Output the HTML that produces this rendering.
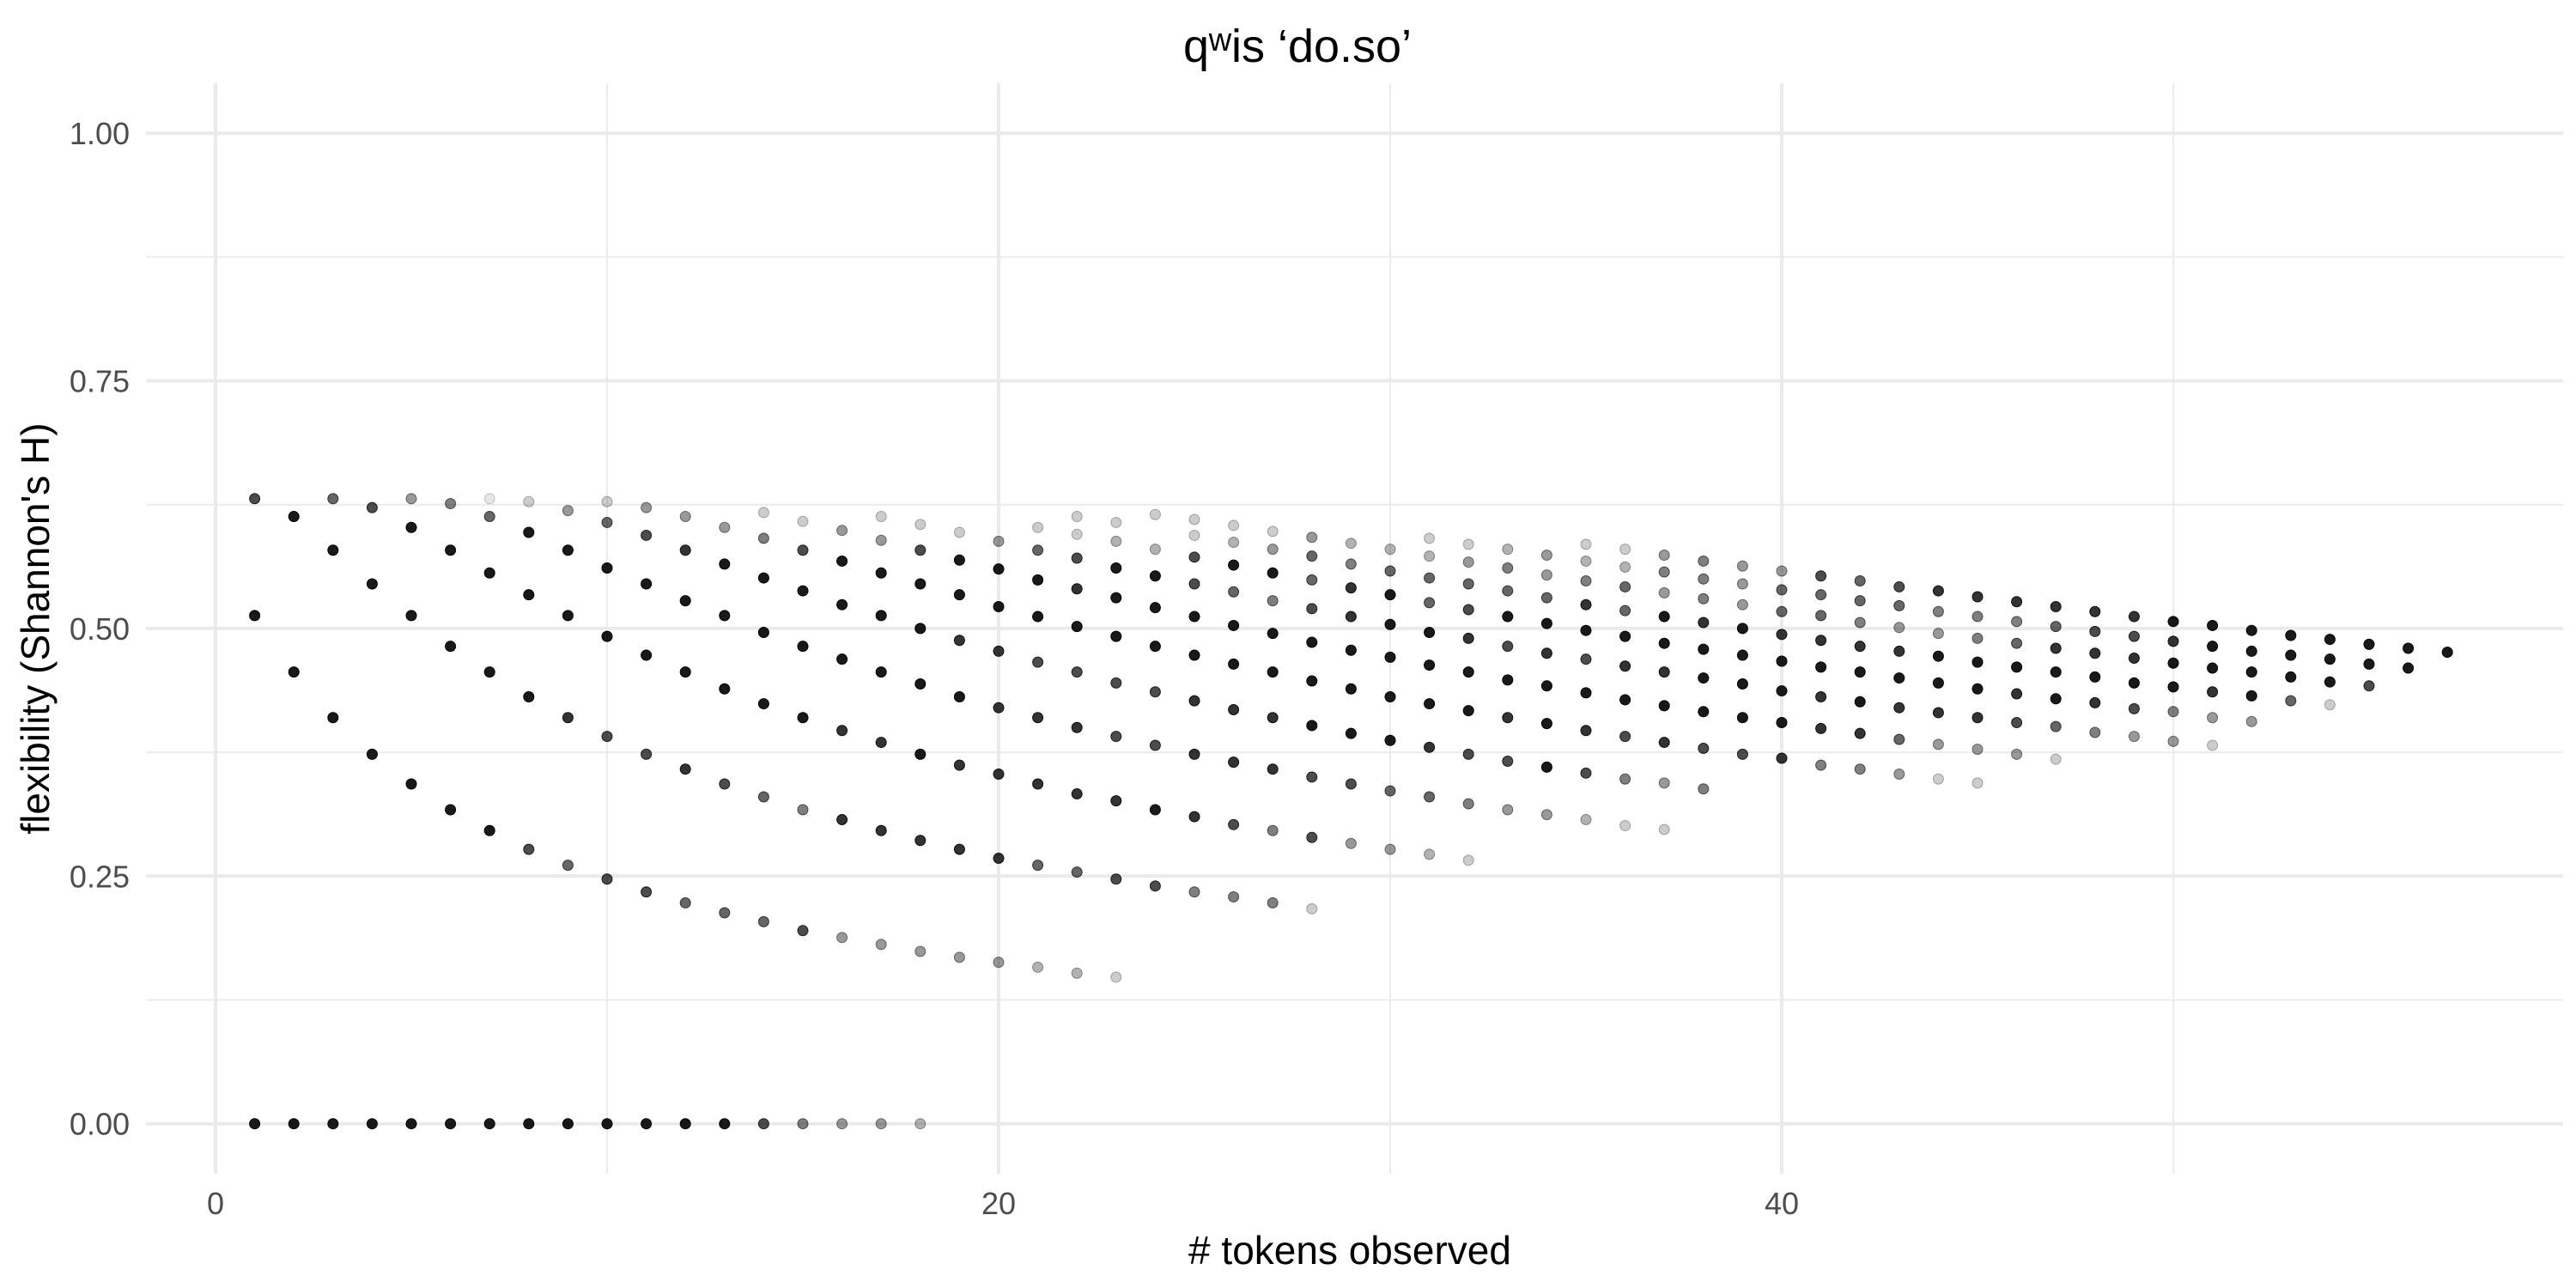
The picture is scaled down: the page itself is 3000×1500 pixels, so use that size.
<!DOCTYPE html>
<html>
<head>
<meta charset="utf-8">
<style>
html,body{margin:0;padding:0;background:#fff;}
svg{display:block;font-family:"Liberation Sans",Arial,sans-serif;}
</style>
</head>
<body>
<svg id="chart" width="3000" height="1500" viewBox="0 0 3000 1500" xmlns="http://www.w3.org/2000/svg">
  <rect x="0" y="0" width="3000" height="1500" fill="#ffffff"/>
  <g id="grid"></g>
  <g id="points"></g>
  <g id="axes"></g>
  <text x="1511" y="72" font-size="54" text-anchor="middle" fill="#000">qʷis ‘do.so’</text>
  <text x="1572" y="1472" font-size="46" text-anchor="middle" fill="#000"># tokens observed</text>
  <text x="0" y="0" font-size="46" text-anchor="middle" fill="#000" transform="translate(57,732) rotate(-90)">flexibility (Shannon's H)</text>
</svg>
<script>
// ---- data ----
const xTickValues = [0, 20, 40];
const xTickLabels = ["0", "20", "40"];
const xMinorValues = [10, 30, 50];
const yTickValues = [0, 0.25, 0.5, 0.75, 1.0];
const yTickLabels = ["0.00", "0.25", "0.50", "0.75", "1.00"];
const yMinorValues = [0.125, 0.375, 0.625, 0.875];

// tokens observed (x) for each column of points
const tokenCounts = [1,2,3,4,5,6,7,8,9,10,11,12,13,14,15,16,17,18,19,20,21,22,23,24,25,26,27,28,29,30,31,32,33,34,35,36,37,38,39,40,41,42,43,44,45,46,47,48,49,50,51,52,53,54,55,56,57];
// flexibility values per column
const flexValues = [
[.631,.513,0],[.613,.456,0],[.631,.579,.410,0],[.622,.545,.373,0],[.631,.602,.513,.343,0],
[.626,.579,.482,.317,0],[.631,.613,.556,.456,.296,0],[.628,.597,.534,.431,.277,0],[.619,.579,.513,.410,.261,0],
[.628,.607,.561,.492,.391,.247,0],[.622,.594,.545,.473,.373,.234,0],[.613,.579,.528,.456,.358,.223,0],
[.602,.565,.513,.439,.343,.213,0],[.617,.591,.551,.496,.424,.330,.204,0],[.608,.579,.538,.482,.410,.317,.195,0],
[.599,.568,.524,.469,.397,.307,.188,0],[.613,.589,.556,.513,.456,.385,.296,.181,0],[.605,.579,.545,.500,.444,.373,.286,.174,0],
[.597,.569,.534,.488,.431,.362,.277,.168],[.588,.560,.522,.477,.420,.353,.268,.163],
[.602,.579,.549,.512,.466,.410,.343,.261,.158],[.613,.595,.571,.540,.502,.456,.400,.333,.254,.152],
[.607,.588,.561,.531,.492,.445,.391,.326,.247,.148],[.615,.580,.553,.521,.482,.436,.382,.317,.240],
[.610,.594,.572,.545,.512,.473,.427,.373,.310,.234],[.604,.587,.564,.537,.503,.464,.418,.365,.302,.229],
[.598,.580,.556,.528,.495,.456,.410,.358,.296,.223],[.592,.573,.549,.520,.486,.447,.402,.350,.289,.217],
[.586,.565,.541,.512,.478,.439,.394,.343,.283],[.580,.558,.534,.504,.471,.431,.387,.336,.277],
[.591,.573,.551,.526,.496,.463,.424,.380,.330,.272],[.585,.567,.545,.519,.490,.456,.417,.373,.323,.266],
[.580,.561,.538,.512,.482,.448,.410,.366,.317],[.574,.554,.531,.505,.475,.442,.404,.360,.312],
[.585,.568,.548,.524,.498,.469,.435,.397,.354,.307],[.580,.562,.542,.518,.492,.462,.428,.391,.348,.301],
[.574,.557,.536,.512,.485,.456,.422,.385,.344,.297],[.568,.550,.530,.506,.479,.450,.416,.379,.338],
[.563,.545,.524,.500,.473,.444,.410,.373],[.558,.539,.517,.494,.467,.437,.405,.369],
[.553,.534,.513,.488,.461,.431,.399,.362],[.548,.528,.506,.482,.456,.426,.394,.358],
[.542,.523,.501,.477,.450,.420,.388,.353],[.538,.517,.495,.472,.445,.415,.383,.348],
[.532,.512,.490,.466,.439,.410,.378,.344],[.527,.507,.485,.461,.434,.405,.373],
[.522,.502,.480,.456,.429,.401,.368],[.517,.497,.475,.451,.425,.395],
[.512,.492,.470,.445,.419,.391],[.507,.487,.465,.441,.416,.386],
[.503,.482,.460,.436,.410,.382],[.498,.477,.456,.432,.406],
[.493,.473,.451,.427],[.489,.469,.446,.423],[.484,.464,.442],[.480,.460],[.476]
];
// opacity (tenths) per point, same shape as flexValues
const pointAlpha = [
[7,9,9],[9,9,9],[6,9,9,9],[7,9,9,9],[4,9,9,9,9],
[5,9,9,9,9],[1,6,9,9,9,9],[2,9,9,9,7,9],[4,9,9,8,6,9],
[2,6,9,9,7,7,9],[4,7,9,9,7,7,9],[4,8,9,9,8,6,9],
[4,9,9,9,7,6,9],[2,5,9,9,9,6,6,7],[2,7,9,9,9,5,7,5],
[4,9,9,9,8,8,4,4],[2,4,9,9,9,8,8,4,4],[2,7,9,9,9,9,8,4,3],
[2,9,9,8,9,8,8,4],[4,9,9,8,8,8,8,4],
[2,6,9,9,7,8,8,6,3],[2,2,7,8,9,7,8,8,6,3],
[2,3,9,9,9,7,7,8,7,2],[2,3,9,9,9,7,7,9,7],
[2,2,7,7,9,9,8,8,8,5],[2,3,9,6,9,9,8,8,7,5],
[2,4,9,5,9,9,8,8,5,5],[4,6,6,7,9,9,9,7,7,2],
[3,5,8,8,9,9,9,7,4],[3,6,9,9,9,9,9,6,4],
[2,3,6,6,9,9,9,8,6,3],[2,4,6,7,8,9,9,7,5,2],
[3,5,6,9,7,9,8,7,4],[4,4,6,9,8,9,9,9,4],
[2,3,5,8,9,7,9,8,7,3],[2,3,6,6,9,8,9,7,5,2],
[4,5,4,9,9,8,9,8,4,2],[5,5,5,8,9,9,9,7,5],
[4,4,4,9,9,9,9,7],[4,6,6,8,9,9,9,8],
[7,6,6,8,9,8,8,5],[6,6,5,8,9,9,8,5],
[7,6,4,8,9,8,6,4],[8,5,4,9,9,8,4,2],
[8,5,5,9,9,8,4,2],[8,5,6,9,8,7,4],
[8,6,8,9,9,6,2],[8,7,8,9,8,5],
[8,7,8,9,7,4],[9,8,9,9,5,4],
[9,9,9,8,4,2],[9,9,9,9,4],
[9,9,9,6],[9,9,9,2],[9,9,7],[9,9],[9]
];

// ---- scales ----
const X0 = 251, XU = 45.6;
const Y0 = 1308.7, YU = 1153.6;
const PANEL_L = 170, PANEL_R = 2985, PANEL_T = 97, PANEL_B = 1367;
function xScale(v){ return X0 + v * XU; }
function yScale(v){ return Y0 - v * YU; }

const NS = "http://www.w3.org/2000/svg";
const grid = document.getElementById('grid');
const axes = document.getElementById('axes');
const pts = document.getElementById('points');

function line(parent, x1, y1, x2, y2, w, name){
  const l = document.createElementNS(NS, 'line');
  l.setAttribute('x1', x1); l.setAttribute('y1', y1);
  l.setAttribute('x2', x2); l.setAttribute('y2', y2);
  l.setAttribute('stroke', '#ebebeb'); l.setAttribute('stroke-width', w);
  
  
  parent.appendChild(l);
}
yMinorValues.forEach(v => line(grid, PANEL_L, yScale(v), PANEL_R, yScale(v), 2, 'y-minor-gridline'));
xMinorValues.forEach(v => line(grid, xScale(v), PANEL_T, xScale(v), PANEL_B, 2, 'x-minor-gridline'));
yTickValues.forEach(v => line(grid, PANEL_L, yScale(v), PANEL_R, yScale(v), 4, 'y-major-gridline'));
xTickValues.forEach(v => line(grid, xScale(v), PANEL_T, xScale(v), PANEL_B, 4, 'x-major-gridline'));

yTickValues.forEach((v, i) => {
  const t = document.createElementNS(NS, 'text');
  t.setAttribute('x', 151); t.setAttribute('y', yScale(v) + 13);
  t.setAttribute('text-anchor', 'end'); t.setAttribute('font-size', '36');
  t.setAttribute('fill', '#4d4d4d');
  
  
  t.textContent = yTickLabels[i];
  axes.appendChild(t);
});
xTickValues.forEach((v, i) => {
  const t = document.createElementNS(NS, 'text');
  t.setAttribute('x', xScale(v)); t.setAttribute('y', 1414);
  t.setAttribute('text-anchor', 'middle'); t.setAttribute('font-size', '36');
  t.setAttribute('fill', '#4d4d4d');
  
  
  t.textContent = xTickLabels[i];
  axes.appendChild(t);
});

tokenCounts.forEach((n, ci) => {
  flexValues[ci].forEach((h, pi) => {
    const c = document.createElementNS(NS, 'circle');
    c.setAttribute('cx', xScale(n));
    c.setAttribute('cy', yScale(h));
    c.setAttribute('r', 6);
    const a = (pointAlpha[ci] && pointAlpha[ci][pi] != null ? pointAlpha[ci][pi] : 9) / 10;
    c.setAttribute('fill', '#000');
    c.setAttribute('fill-opacity', a);
    c.setAttribute('stroke', '#000');
    c.setAttribute('stroke-opacity', Math.min(1, a + 0.1));
    c.setAttribute('stroke-width', 1);
    
    
    pts.appendChild(c);
  });
});
</script>
</body>
</html>
